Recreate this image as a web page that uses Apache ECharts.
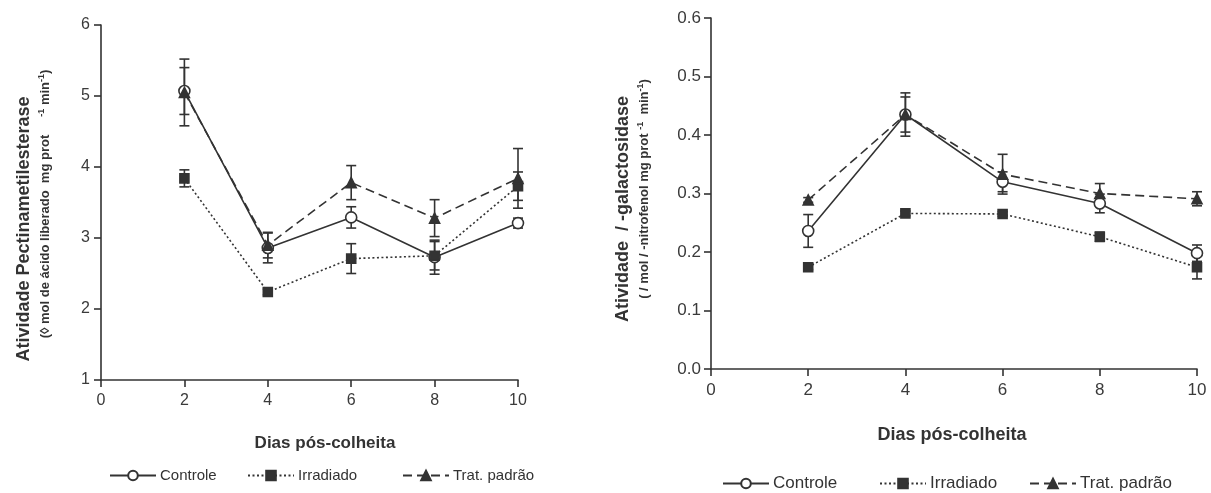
<!DOCTYPE html>
<html>
<head>
<meta charset="utf-8">
<script src="https://cdn.jsdelivr.net/npm/echarts@6/dist/echarts.min.js"></script>
<style>
  html, body { margin: 0; padding: 0; background: #fff; }
  #chart { width: 1211px; height: 493px; }
</style>
</head>
<body>
<div id="chart"></div>
<script>
  // dias pós-colheita
  var days = [2, 4, 6, 8, 10];
  var xTicks = [0, 2, 4, 6, 8, 10];
  var pmeTicks = [1, 2, 3, 4, 5, 6];
  var galTicks = ['0.0', '0.1', '0.2', '0.3', '0.4', '0.5', '0.6'];
  var seriesNames = ['Controle', 'Irradiado', 'Trat. padrão'];

  // Pectinametilesterase (esquerda)
  var pmeControle = [5.07, 2.86, 3.29, 2.73, 3.21];
  var pmeControleErr = [0.33, 0.21, 0.15, 0.24, 0.07];
  var pmeIrradiado = [3.84, 2.24, 2.71, 2.75, 3.73];
  var pmeIrradiadoErr = [0.12, 0.04, 0.21, 0.20, 0.20];
  var pmeTrat = [5.05, 2.90, 3.78, 3.28, 3.84];
  var pmeTratErr = [0.47, 0.18, 0.24, 0.26, 0.42];

  // beta-galactosidase (direita)
  var galControle = [0.236, 0.435, 0.320, 0.283, 0.198];
  var galControleErr = [0.028, 0.037, 0.017, 0.016, 0.014];
  var galIrradiado = [0.174, 0.266, 0.265, 0.226, 0.174];
  var galIrradiadoErr = [0.004, 0.004, 0.004, 0.008, 0.020];
  var galTrat = [0.289, 0.435, 0.333, 0.300, 0.291];
  var galTratErr = [0.004, 0.030, 0.034, 0.017, 0.012];

  var ink = '#333';
  var font = '"Liberation Sans", Arial, sans-serif';

  function pairs(v) {
    return days.map(function (d, i) { return [d, v[i]]; });
  }
  function bars(v, e) {
    return days.map(function (d, i) { return [d, v[i] - e[i], v[i] + e[i]]; });
  }

  var styles = {
    'Controle': { dash: 'solid', symbol: 'circle', size: 11, fill: '#fff' },
    'Irradiado': { dash: [2, 2.5], symbol: 'rect', size: 9, fill: ink },
    'Trat. padrão': { dash: [9, 5], symbol: 'triangle', size: 10, fill: ink }
  };

  function lineSeries(name, idx, values) {
    var s = styles[name];
    return {
      name: name, type: 'line', xAxisIndex: idx, yAxisIndex: idx,
      data: pairs(values), z: 5,
      symbol: s.symbol, symbolSize: s.size, showAllSymbol: true,
      lineStyle: { color: ink, width: 1.6, type: s.dash },
      itemStyle: { color: s.fill, borderColor: ink, borderWidth: 1.6 },
      emphasis: { disabled: true }
    };
  }

  function errSeries(idx, values, errs) {
    return {
      type: 'custom', xAxisIndex: idx, yAxisIndex: idx, z: 3, silent: true,
      data: bars(values, errs),
      renderItem: function (params, api) {
        var lo = api.coord([api.value(0), api.value(1)]);
        var hi = api.coord([api.value(0), api.value(2)]);
        var w = 5;
        var st = { stroke: ink, lineWidth: 1.6 };
        return {
          type: 'group',
          children: [
            { type: 'line', shape: { x1: lo[0], y1: lo[1], x2: hi[0], y2: hi[1] }, style: st },
            { type: 'line', shape: { x1: lo[0] - w, y1: lo[1], x2: lo[0] + w, y2: lo[1] }, style: st },
            { type: 'line', shape: { x1: hi[0] - w, y1: hi[1], x2: hi[0] + w, y2: hi[1] }, style: st }
          ]
        };
      }
    };
  }

  function xAxis(idx, fs, gap) {
    return {
      type: 'value', gridIndex: idx, min: xTicks[0], max: xTicks[xTicks.length - 1], interval: 2,
      axisLine: { lineStyle: { color: ink, width: 1.6 } },
      axisTick: { length: 7, lineStyle: { color: ink, width: 1.6 } },
      axisLabel: { color: '#3a3a3a', fontSize: fs, fontFamily: font, margin: gap },
      splitLine: { show: false }
    };
  }

  var legendPos = [
    // [left, top, fontSize] per item, left chart then right chart
    [[104, 463, 15], [242, 463, 15], [397, 463, 15]],
    [[717, 470, 17], [874, 470, 17], [1024, 470, 17]]
  ];
  var legends = [];
  legendPos.forEach(function (row) {
    row.forEach(function (p, i) {
      legends.push({
        data: [seriesNames[i]], left: p[0], top: p[1], itemWidth: 46, itemHeight: 12,
        itemGap: 0, selectedMode: false,
        textStyle: { color: ink, fontSize: p[2], fontFamily: font, padding: [0, 0, 0, -1] }
      });
    });
  });

  var chart = echarts.init(document.getElementById('chart'));
  chart.setOption({
    animation: false,
    backgroundColor: '#fff',
    grid: [
      { left: 101, top: 25, width: 417, height: 355 },
      { left: 711, top: 18, width: 486, height: 351 }
    ],
    legend: legends,
    xAxis: [xAxis(0, 16, 13), xAxis(1, 17, 13)],
    yAxis: [
      {
        type: 'value', gridIndex: 0, min: pmeTicks[0], max: pmeTicks[pmeTicks.length - 1], interval: 1,
        axisLine: { show: true, lineStyle: { color: ink, width: 1.6 } },
        axisTick: { show: true, length: 7, lineStyle: { color: ink, width: 1.6 } },
        axisLabel: { color: '#3a3a3a', fontSize: 16, fontFamily: font, margin: 11 },
        splitLine: { show: false }
      },
      {
        type: 'value', gridIndex: 1, min: 0, max: 0.6, interval: 0.1,
        axisLine: { show: true, lineStyle: { color: ink, width: 1.6 } },
        axisTick: { show: true, length: 7, lineStyle: { color: ink, width: 1.6 } },
        axisLabel: {
          color: '#3a3a3a', fontSize: 17, fontFamily: font, margin: 10,
          formatter: function (v) { return galTicks[Math.round(v * 10)]; }
        },
        splitLine: { show: false }
      }
    ],
    graphic: [
      {
        type: 'text', x: 24, y: 229, rotation: Math.PI / 2,
        style: { text: 'Atividade Pectinametilesterase', fill: ink, font: 'bold 18px ' + font, align: 'center', verticalAlign: 'middle' }
      },
      {
        type: 'text', x: 45, y: 204, rotation: Math.PI / 2,
        style: {
          text: '{n|(◊ mol de ácido liberado  mg prot     }{s|-1}{n| min}{s|-1}{n|)}',
          align: 'center', verticalAlign: 'middle',
          rich: {
            n: { fill: ink, font: 'bold 13px ' + font, lineHeight: 16 },
            s: { fill: ink, font: 'bold 9px ' + font, lineHeight: 16, verticalAlign: 'top' }
          }
        }
      },
      {
        type: 'text', x: 623, y: 209, rotation: Math.PI / 2,
        style: { text: 'Atividade  / -galactosidase', fill: ink, font: 'bold 18px ' + font, align: 'center', verticalAlign: 'middle' }
      },
      {
        type: 'text', x: 644, y: 189, rotation: Math.PI / 2,
        style: {
          text: '{n|( / mol / -nitrofenol mg prot }{s|-1}{n|  min}{s|-1}{n|)}',
          align: 'center', verticalAlign: 'middle',
          rich: {
            n: { fill: ink, font: 'bold 13px ' + font, lineHeight: 16 },
            s: { fill: ink, font: 'bold 9px ' + font, lineHeight: 16, verticalAlign: 'top' }
          }
        }
      },
      {
        type: 'text', x: 325, y: 443,
        style: { text: 'Dias pós-colheita', fill: ink, font: 'bold 17px ' + font, align: 'center', verticalAlign: 'middle' }
      },
      {
        type: 'text', x: 952, y: 435,
        style: { text: 'Dias pós-colheita', fill: ink, font: 'bold 18px ' + font, align: 'center', verticalAlign: 'middle' }
      }
    ],
    series: [
      errSeries(0, pmeControle, pmeControleErr),
      errSeries(0, pmeIrradiado, pmeIrradiadoErr),
      errSeries(0, pmeTrat, pmeTratErr),
      lineSeries('Controle', 0, pmeControle),
      lineSeries('Irradiado', 0, pmeIrradiado),
      lineSeries('Trat. padrão', 0, pmeTrat),
      errSeries(1, galControle, galControleErr),
      errSeries(1, galIrradiado, galIrradiadoErr),
      errSeries(1, galTrat, galTratErr),
      lineSeries('Controle', 1, galControle),
      lineSeries('Irradiado', 1, galIrradiado),
      lineSeries('Trat. padrão', 1, galTrat)
    ]
  });
</script>
</body>
</html>
